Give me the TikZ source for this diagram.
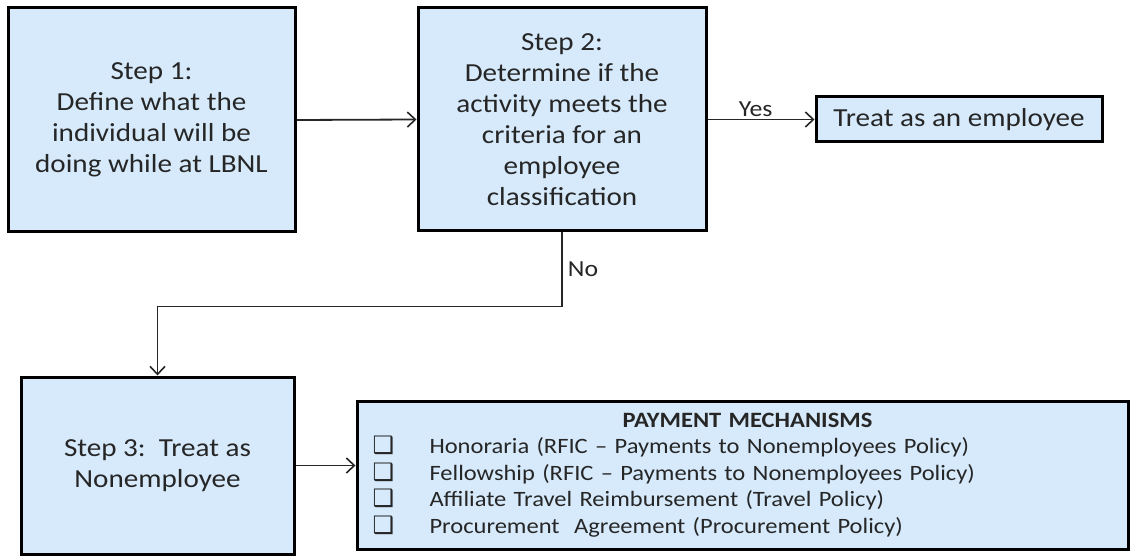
\documentclass[tikz,border=0pt]{standalone}
\usepackage{fontspec}
\setmainfont{Carlito}[FakeStretch=1.12]
\newfontfamily\dingfont{DejaVu Sans}
\usetikzlibrary{arrows.meta}
\definecolor{boxfill}{RGB}{214,234,251}
\definecolor{ink}{RGB}{38,38,38}
\newcommand{\chkbox}{{\dingfont\fontsize{24pt}{24pt}\selectfont ❑}}
\tikzset{
  stepbox/.style={draw=black, line width=3pt, fill=boxfill, text=ink,
    align=center, inner sep=0pt, font=\fontsize{26pt}{31pt}\selectfont},
  link/.style={draw=ink, line width=1.8pt,
    -{Straight Barb[length=8pt, width=15pt, line width=1.6pt]}},
  tag/.style={text=ink, font=\fontsize{23pt}{27pt}\selectfont, inner sep=5pt}
}
\begin{document}
\begin{tikzpicture}[x=1pt, y=-1pt]
\useasboundingbox[fill=white] (0,0) rectangle (1130,556);

\node[stepbox, minimum width=287pt, minimum height=224pt] (s1) at (151.5,120)
  {Step 1:\\Define what the\\individual will be\\doing while at LBNL};
\node[stepbox, minimum width=288pt, minimum height=223pt] (s2) at (562,119.5)
  {Step 2:\\Determine if the\\activity meets the\\criteria for an\\employee\\classification};
\node[stepbox, minimum width=286pt, minimum height=45pt] (emp) at (959,119.5)
  {Treat as an employee};
\node[stepbox, minimum width=273pt, minimum height=177pt] (s3) at (157.5,465.5)
  {Step 3:\ \ Treat as\\Nonemployee};
\node[stepbox, minimum width=771pt, minimum height=148pt, text width=740pt,
  align=left, font=\fontsize{21.9pt}{26.6pt}\selectfont] (pay) at (742.5,475)
  {\makebox[\linewidth]{\hspace*{10pt}\bfseries PAYMENT MECHANISMS}\\
   \makebox[57pt][l]{\chkbox}Honoraria (RFIC – Payments to Nonemployees Policy)\\
   \makebox[57pt][l]{\chkbox}Fellowship (RFIC – Payments to Nonemployees Policy)\\
   \makebox[57pt][l]{\chkbox}Affiliate Travel Reimbursement (Travel Policy)\\
   \makebox[57pt][l]{\chkbox}Procurement\ \ Agreement (Procurement Policy)};

\draw[link] (s1.east) -- (s2.west);
\draw[link] (s2.east) -- node[tag, above, pos=0.45, inner sep=2pt] {Yes} (emp.west);
\draw[link] (s2.south) -- node[tag, right, pos=0.5] {No} ++(0,74) -| (s3.north);
\draw[link] (s3.east) -- (s3.east -| pay.west);
\end{tikzpicture}
\end{document}
